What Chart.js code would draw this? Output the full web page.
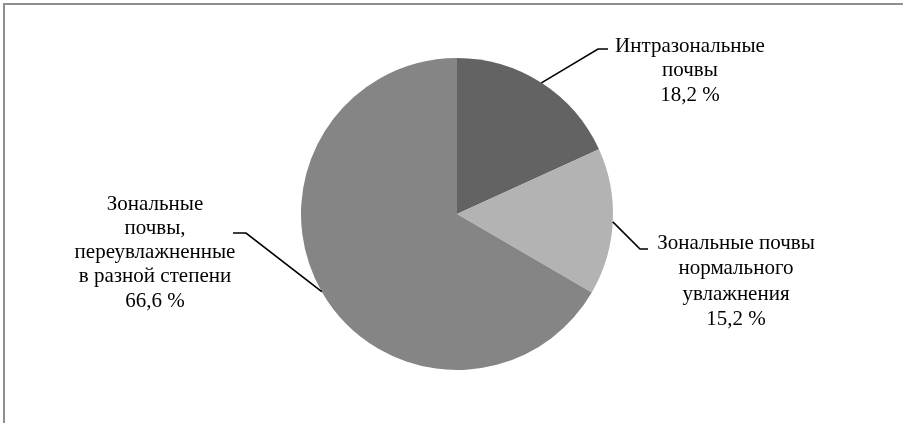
<!DOCTYPE html>
<html>
<head>
<meta charset="utf-8">
<script src="https://cdn.jsdelivr.net/npm/chart.js@4.4.1/dist/chart.umd.min.js"></script>
<style>
html,body{margin:0;padding:0;background:#fff;}
#wrap{width:903px;height:423px;position:relative;}
</style>
</head>
<body>
<div id="wrap"><canvas id="pie" width="903" height="423"></canvas></div>
<script>
// soil groups, share of area in %
const categories=[
  ['Интразональные','почвы'],
  ['Зональные почвы','нормального','увлажнения'],
  ['Зональные','почвы,','переувлажненные','в разной степени']
];
const shares=[18.2,15.2,66.6];
const shareLabels=['18,2 %','15,2 %','66,6 %'];
const sliceColors=['#636363','#b3b3b3','#858585'];

// where each caption sits: elbow of the leader line, end of the short tail, text centre and first line
const callouts=[
  {elbow:[598,49],tail:[608,49],cx:690,y0:46,lh:24.5},
  {elbow:[640,249],tail:[648,249],cx:736,y0:243,lh:25.5},
  {elbow:[246,233],tail:[233,233],cx:155,y0:204,lh:24.25}
];

const frame={
  id:'frame',
  beforeDraw(chart){
    const ctx=chart.ctx;
    ctx.save();
    ctx.strokeStyle='#8f8f8f';
    ctx.lineWidth=2;
    ctx.beginPath();
    ctx.moveTo(4,430);ctx.lineTo(4,4);ctx.lineTo(910,4);
    ctx.stroke();
    ctx.restore();
  }
};

const calloutLabels={
  id:'calloutLabels',
  afterDatasetsDraw(chart){
    const ctx=chart.ctx;
    const arcs=chart.getDatasetMeta(0).data;
    ctx.save();
    arcs.forEach((arc,i)=>{
      const c=callouts[i];
      const mid=(arc.startAngle+arc.endAngle)/2;
      const sx=arc.x+Math.cos(mid)*arc.outerRadius;
      const sy=arc.y+Math.sin(mid)*arc.outerRadius;
      ctx.strokeStyle='#000';
      ctx.lineWidth=1.6;
      ctx.beginPath();
      ctx.moveTo(sx,sy);
      ctx.lineTo(c.elbow[0],c.elbow[1]);
      ctx.lineTo(c.tail[0],c.tail[1]);
      ctx.stroke();
      ctx.fillStyle='#000';
      ctx.font='21px "Liberation Serif", "Times New Roman", serif';
      ctx.textAlign='center';
      ctx.textBaseline='middle';
      const lines=categories[i].concat([shareLabels[i]]);
      lines.forEach((t,k)=>ctx.fillText(t,c.cx,c.y0+k*c.lh));
    });
    ctx.restore();
  }
};

new Chart(document.getElementById('pie'),{
  type:'pie',
  data:{
    labels:categories.map(l=>l.join(' ')),
    datasets:[{
      data:shares,
      backgroundColor:sliceColors,
      borderWidth:0
    }]
  },
  options:{
    responsive:false,
    animation:false,
    layout:{padding:{left:301,right:290,top:58,bottom:53}},
    plugins:{legend:{display:false},tooltip:{enabled:false}}
  },
  plugins:[frame,calloutLabels]
});
</script>
</body>
</html>
